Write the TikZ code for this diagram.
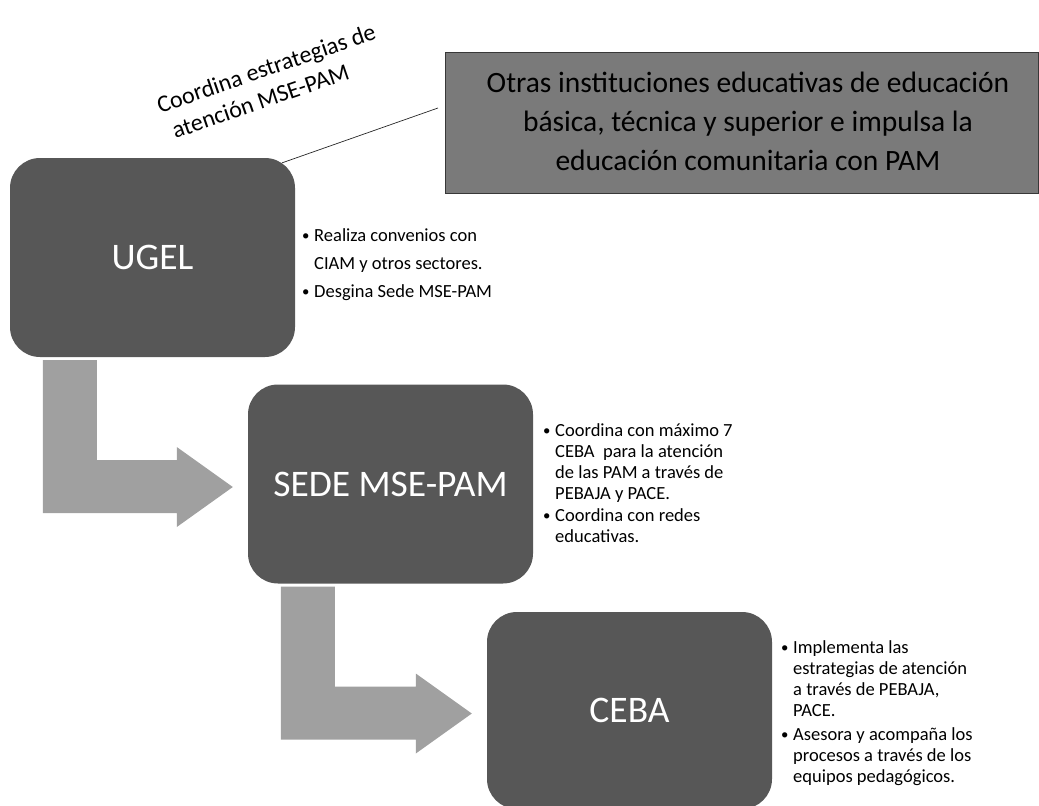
\documentclass[tikz,border=0pt]{standalone}
\usepackage{fontspec}
\setmainfont{Carlito}
\usepackage{graphicx}
\usetikzlibrary{calc}
\definecolor{boxgray}{HTML}{575757}
\definecolor{topgray}{HTML}{7A7A7A}
\definecolor{topborder}{HTML}{383838}
\definecolor{arrowgray}{HTML}{A0A0A0}
\newcommand{\bulx}{\makebox[12pt][l]{\raisebox{0.5pt}{\scalebox{0.8}{•}}}}
\newcommand{\indx}{\hspace*{12pt}}
\newcommand{\bentarrow}[2]{%
  \fill[arrowgray] let \p1=(#1.south west), \p2=(#2.west) in
    (\x1+33pt,\y1-3pt) -- (\x1+87pt,\y1-3pt) -- (\x1+87pt,\y2+24pt)
    -- (\x2-71pt,\y2+24pt) -- (\x2-71pt,\y2+37pt) -- (\x2-15pt,\y2-3pt)
    -- (\x2-71pt,\y2-43pt) -- (\x2-71pt,\y2-29pt) -- (\x1+33pt,\y2-29pt) -- cycle;}
\begin{document}
\begin{tikzpicture}[x=1pt,y=-1pt,
  stage/.style={rectangle, rounded corners=30pt, fill=boxgray, text=white,
    font=\fontsize{37.5}{44}\selectfont, inner sep=0pt,
    minimum width=285pt, minimum height=199pt},
  bullets/.style={anchor=north west, align=left, inner sep=0pt, text=black}]
\useasboundingbox (0,0) rectangle (1039,806);

% top box
\node[draw=topborder, line width=1pt, fill=topgray, minimum width=593pt,
  minimum height=141pt, inner sep=0pt, anchor=north west] (top) at (445,52) {};
\node[font=\fontsize{29.5}{39}\selectfont, align=center, inner sep=0pt, text=black]
  (toptext) at (748,121) {Otras instituciones educativas de educación\\
  básica, técnica y superior e impulsa la\\ educación comunitaria con PAM};

% stage boxes
\node[stage] (ugel) at (152.5,257.5) {UGEL};
\node[stage] (sede) at (390.5,484) {SEDE MSE-PAM};
\node[stage, minimum height=197pt] (ceba) at (629.5,710.5) {CEBA};

% bent arrows
\bentarrow{ugel}{sede}
\bentarrow{sede}{ceba}

% connector line
\draw[line width=0.7pt, black!85] ($(ugel.north east)+(-13,5)$) -- ($(top.north west)+(-7,56)$);

% rotated label
\node[rotate=19, anchor=north west, align=left, inner sep=0pt,
  font=\fontsize{24}{29}\selectfont] (coordlabel) at (153.5,94)
  {\strut Coordina estrategias de\\ \hspace*{6pt}atención MSE-PAM};

% bullet texts
\node[bullets, font=\fontsize{18.5}{28}\selectfont] (ugelb) at (302,221.4)
  {\strut\bulx Realiza convenios con\\ \indx CIAM y otros sectores.\\ \bulx Desgina Sede MSE-PAM};
\node[bullets, font=\fontsize{18.5}{21}\selectfont] (sedeb) at (543,421.3)
  {\strut\bulx Coordina con máximo 7\\ \indx CEBA\ \ para la atención\\ \indx de las PAM a través de\\
   \indx PEBAJA y PACE.\\[1pt] \bulx Coordina con redes\\ \indx educativas.};
\node[bullets, font=\fontsize{18.5}{21}\selectfont] (cebab) at (781,638.3)
  {\strut\bulx Implementa las\\ \indx estrategias de atención\\ \indx a través de PEBAJA,\\
   \indx PACE.\\[3pt] \bulx Asesora y acompaña los\\ \indx procesos a través de los\\ \indx equipos pedagógicos.};
\end{tikzpicture}
\end{document}
